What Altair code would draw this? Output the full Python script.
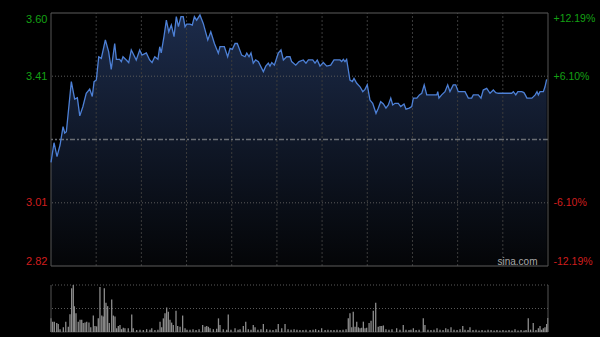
import altair as alt
import pandas as pd

# ---- price line (minutes since open, price) ----
minutes = [
    0, 2.0, 4.0, 6.0, 8.0, 9.1, 10.2, 13.5, 15.7, 17.5,
    19.1, 21.2, 23.4, 25.7, 27.4, 28.6, 30.1, 31.7, 33.4, 36.1,
    38.3, 40.0, 42.3, 43.4, 45.6, 46.7, 47.8, 50.0, 51.6, 53.3,
    54.4, 56.6, 58.9, 60.4, 63.3, 65.5, 67.1, 68.9, 71.0, 72.2,
    73.2, 75.0, 76.6, 78.2, 79.9, 81.7, 83.2, 84.6, 86.3, 87.8,
    89.0, 90.1, 92.3, 93.8, 95.2, 96.7, 98.9, 101.1, 104.1, 106.1,
    108.5, 111.1, 112.2, 115.1, 117.3, 118.9, 120.4, 122.2, 123.7, 126.6,
    128.8, 130.0, 131.5, 132.8, 134.3, 135.9, 137.7, 141.0, 142.6, 144.3,
    145.4, 146.6, 148.3, 150.9, 152.7, 154.3, 156.5, 158.7, 159.8, 162.5,
    164.7, 167.5, 169.3, 170.9, 173.8, 175.3, 176.8, 178.6, 180.8, 183.1,
    185.7, 187.9, 191.9, 193.0, 194.1, 195.2, 196.3, 198.5, 200.1, 201.2,
    203.0, 205.2, 207.0, 208.5, 210.0, 211.8, 213.6, 215.8, 217.3, 218.9,
    220.7, 222.4, 224.0, 225.6, 226.9, 228.4, 230.6, 232.2, 234.4, 235.7,
    237.9, 239.5, 240.6, 242.9, 244.6, 246.2, 247.8, 249.5, 251.7,
    256.2, 256.8, 257.6, 259.4, 261.6, 263.4, 264.9, 267.1, 268.7, 270.4, 274.9,
    277.1, 279.3, 280.4, 283.7, 285.5, 287.0, 289.3, 291.5, 293.7, 295.3,
    297.0, 299.7, 305.9, 307.0, 308.6, 310.0, 312.6, 314.0, 314.9, 316.0,
    319.3, 321.5, 322.7, 323.6, 324.7, 326.9, 328.0, 329.1,
]
prices = [
    3.139, 3.200, 3.157, 3.193, 3.250, 3.230, 3.234, 3.389, 3.335, 3.339,
    3.283, 3.312, 3.353, 3.366, 3.343, 3.389, 3.394, 3.466, 3.461, 3.518,
    3.481, 3.427, 3.507, 3.458, 3.458, 3.451, 3.466, 3.456, 3.448, 3.487,
    3.477, 3.456, 3.487, 3.471, 3.478, 3.456, 3.448, 3.466, 3.458, 3.497,
    3.478, 3.528, 3.579, 3.543, 3.564, 3.528, 3.590, 3.559, 3.590, 3.590,
    3.559, 3.567, 3.567, 3.564, 3.590, 3.579, 3.595, 3.569, 3.518, 3.543,
    3.507, 3.477, 3.497, 3.497, 3.466, 3.492, 3.489, 3.507, 3.507, 3.471,
    3.466, 3.477, 3.466, 3.478, 3.446, 3.456, 3.451, 3.420, 3.437, 3.446,
    3.437, 3.448, 3.440, 3.477, 3.487, 3.456, 3.466, 3.466, 3.451, 3.440,
    3.451, 3.456, 3.446, 3.456, 3.456, 3.446, 3.456, 3.437, 3.448, 3.437,
    3.440, 3.456, 3.456, 3.451, 3.458, 3.451, 3.458, 3.394, 3.389, 3.399,
    3.384, 3.373, 3.358, 3.365, 3.379, 3.332, 3.322, 3.291, 3.307, 3.327,
    3.320, 3.307, 3.317, 3.338, 3.317, 3.322, 3.322, 3.312, 3.320, 3.304,
    3.307, 3.312, 3.338, 3.338, 3.348, 3.353, 3.379, 3.348, 3.348,
    3.348, 3.358, 3.338, 3.348, 3.358, 3.379, 3.358, 3.379, 3.379, 3.358, 3.358,
    3.338, 3.338, 3.348, 3.348, 3.338, 3.363, 3.368, 3.353, 3.363, 3.355,
    3.353, 3.353, 3.353, 3.358, 3.348, 3.358, 3.358, 3.355, 3.348, 3.338,
    3.338, 3.348, 3.358, 3.348, 3.358, 3.358, 3.373, 3.396,
]

# ---- volume bars (minute, relative volume) ----
vol_minutes = [
    0, 1.1, 2.2, 3.8, 4.8, 6, 8.2, 9.8, 11.5, 12.6,
    13.7, 14.8, 15.5, 16.6, 18.1, 19.3, 20.4, 21.4, 22.6, 23.7,
    25.2, 26.4, 28.1, 29.2, 30.3, 31.4, 32.5, 33.7, 34.7, 35.4,
    36.5, 37.6, 38.7, 40.3, 41.4, 42.5, 43.6, 44.7, 45.8, 46.9,
    48, 49.1, 51.3, 53.6, 54.6, 56.9, 59.1, 61.3, 63.5, 65.7,
    66.9, 69, 71, 72.4, 73.5, 74.6, 75.7, 76.8, 77.9, 79,
    80.1, 81.2, 83, 84.1, 85.7, 87.4, 89, 90.3, 92.3, 94.3,
    96.3, 98.3, 100.7, 102.3, 103.4, 104.5, 105.6, 107.8, 110, 111.2,
    112.2, 114.4, 116.7, 117.7, 119.5, 122.2, 124.2, 125.5, 127.7, 129.3,
    131, 132.8, 134.3, 135.5, 137.4, 139.4, 141, 143.2, 145.4, 147.4,
    149.4, 150.9, 153.2, 155.4, 157.4, 159.4, 161.4, 163.3, 165.3, 167.3,
    169.3, 172, 174, 175.7, 177.7, 179.7, 182, 183.9, 185.9, 187.9,
    189.9, 191.9, 193.9, 195.9, 197.4, 198.5, 199.7, 200.7, 201.9, 203,
    204.1, 205.2, 206.3, 207.4, 208.5, 209.6, 211.2, 212.5, 214, 215.6,
    217.3, 218.5, 219.6, 220.7, 222.4, 224.4, 226.4, 229.5, 231.7, 233.9,
    235.7, 237.7, 239, 240.6, 242.4, 244.4, 247.2, 248.3, 250.3, 252.3,
    254.3, 256.3, 258.3, 260.3, 262.1, 263.6, 265.6, 267.6, 269.6, 271.6,
    273.4, 274.9, 276.9, 278.2, 280.2, 282.2, 284.2, 286.2, 288.2, 290.2,
    292.2, 294.2, 296.1, 298.1, 300.1, 302.1, 304.1, 306.1, 308.1, 310.1,
    312.1, 314.1, 315.4, 316.9, 318.4, 320.2, 322, 323.6, 324.7, 325.8,
    326.9, 328, 329.1, 329.8,
]
vol_values = [
    29, 22, 22, 19, 17, 6, 10, 22, 11, 38,
    93, 100, 55, 40, 22, 26, 26, 19, 20, 22,
    20, 10, 35, 13, 12, 29, 96, 35, 33, 93,
    62, 55, 19, 69, 35, 33, 8, 13, 15, 6,
    9, 8, 8, 37, 8, 4, 5, 4, 6, 5,
    8, 4, 5, 22, 10, 29, 40, 52, 43, 26,
    20, 15, 45, 13, 11, 35, 8, 5, 5, 6,
    4, 6, 15, 11, 13, 11, 8, 6, 7, 29,
    15, 6, 5, 37, 5, 8, 5, 6, 13, 22,
    6, 5, 15, 10, 5, 6, 17, 6, 5, 4,
    6, 17, 8, 17, 6, 5, 6, 5, 4, 4,
    5, 4, 5, 6, 4, 8, 4, 5, 4, 4,
    5, 4, 5, 6, 29, 40, 10, 43, 11, 22,
    10, 8, 9, 22, 8, 9, 19, 24, 45, 62,
    11, 13, 13, 14, 6, 5, 6, 8, 5, 15,
    5, 4, 5, 8, 4, 5, 29, 15, 5, 4,
    5, 8, 5, 4, 8, 6, 10, 5, 4, 6,
    13, 5, 4, 10, 4, 5, 3, 4, 3, 5,
    4, 3, 4, 3, 4, 3, 4, 3, 6, 3,
    4, 3, 4, 29, 5, 19, 4, 8, 13, 5,
    8, 10, 17, 30,
]

assert len(minutes) == len(prices)
assert len(vol_minutes) == len(vol_values)

prev_close = 3.21
pct_ticks = [-12.19, -6.10, 6.10, 12.19]
price_ticks = [prev_close * (1 + p / 100) for p in pct_ticks]
p_lo, p_hi = price_ticks[0], price_ticks[-1]
grid_minutes = [30, 60, 90, 120, 150, 180, 210, 240, 270, 300]
session_len = 330
vol_max = 100

FONT = "Liberation Sans"
GREEN = "#14a014"
RED = "#d01e1e"

price_df = pd.DataFrame({"minute": minutes, "price": prices})
vol_df = pd.DataFrame({"minute": vol_minutes, "vol": vol_values})

xs = alt.Scale(domain=[0, session_len], nice=False, zero=False, padding=0)
ps = alt.Scale(domain=[p_lo, p_hi], range=[253, 0], nice=False, zero=False)
qs = alt.Scale(domain=[pct_ticks[0], pct_ticks[-1]], range=[253, 0], nice=False, zero=False)
vs = alt.Scale(domain=[0, vol_max], range=[319, 272], nice=False)

X = alt.X("minute:Q", scale=xs, axis=None)

# area under price line
area = alt.Chart(price_df).mark_area(
    color=alt.Gradient(
        gradient="linear",
        stops=[alt.GradientStop(color="#1c2b4a", offset=0),
               alt.GradientStop(color="#040507", offset=1)],
        x1=1, x2=1, y1=0, y2=1,
    )
).encode(
    x=X,
    y=alt.Y("price:Q", scale=ps,
            axis=alt.Axis(orient="left", values=price_ticks, format=".2f",
                          labelColor={"condition": {"test": f"datum.value > {prev_close}", "value": GREEN}, "value": RED},
                          labelFont=FONT, labelFontSize=11, labelPadding=4, labelFlush=True,
                          ticks=False, domain=False, grid=False, title=None)),
    y2=alt.Y2Datum(p_lo),
)

# vertical grid
vgrid = alt.Chart(pd.DataFrame({"minute": grid_minutes})).mark_rule(
    color="#3c3c3c", strokeDash=[2, 2], strokeWidth=1
).encode(x=X, y=alt.YDatum(p_lo, scale=ps), y2=alt.Y2Datum(p_hi))

# horizontal grid
hgrid = alt.Chart(pd.DataFrame({"price": [price_ticks[1], price_ticks[2]]})).mark_rule(
    color="#5a5a5a", strokeDash=[1, 2], strokeWidth=1
).encode(y=alt.Y("price:Q", scale=ps))

mid = alt.Chart(pd.DataFrame({"price": [prev_close]})).mark_rule(
    color="#6a6e74", strokeDash=[5, 2, 2, 2], strokeWidth=1.5
).encode(y=alt.Y("price:Q", scale=ps))

# borders
hborder = alt.Chart(pd.DataFrame({"price": [p_lo, p_hi]})).mark_rule(
    color="#5c5c5c", strokeWidth=1
).encode(y=alt.Y("price:Q", scale=ps))
vborder = alt.Chart(pd.DataFrame({"minute": [0, session_len]})).mark_rule(
    color="#555555", strokeWidth=1
).encode(x=X, y=alt.YDatum(p_lo, scale=ps), y2=alt.Y2Datum(p_hi))

line = alt.Chart(price_df).mark_line(color="#4d80d6", strokeWidth=1.3).encode(
    x=X, y=alt.Y("price:Q", scale=ps)
)

mark_df = pd.DataFrame({"minute": [323.0], "price": [2.822], "t": ["sina.com"]})
water = alt.Chart(mark_df).mark_text(
    align="right", baseline="alphabetic", color="#a8a8a8", font=FONT, fontSize=10
).encode(x=X, y=alt.Y("price:Q", scale=ps), text="t:N")

price_layer = alt.layer(area, vgrid, hgrid, mid, hborder, vborder, line, water)

# right percentage axis
pct_layer = alt.Chart(pd.DataFrame({"pct": pct_ticks})).mark_point(opacity=0).encode(
    y=alt.Y("pct:Q", scale=qs,
            axis=alt.Axis(orient="right", values=pct_ticks,
                          labelExpr="(datum.value > 0 ? '+' : '-') + format(abs(datum.value), '.2f') + '%'",
                          labelColor={"condition": {"test": "datum.value > 0", "value": GREEN}, "value": RED},
                          labelFont=FONT, labelFontSize=10.5, labelPadding=5, labelFlush=True,
                          ticks=False, domain=False, grid=False, title=None))
)

# volume panel
bars = alt.Chart(vol_df).mark_bar(size=1.3, color="#8c8c8c").encode(
    x=X, y=alt.Y("vol:Q", scale=vs, axis=None)
)
vlines = alt.Chart(pd.DataFrame({"vol": [vol_max / 2, vol_max]})).mark_rule(
    color="#5a5a5a", strokeDash=[1, 2], strokeWidth=1
).encode(y=alt.Y("vol:Q", scale=vs, axis=None))
vbase = alt.Chart(pd.DataFrame({"vol": [0]})).mark_rule(
    color="#3a3a3a", strokeWidth=1
).encode(y=alt.Y("vol:Q", scale=vs, axis=None))
vside = alt.Chart(pd.DataFrame({"minute": [0, session_len]})).mark_rule(
    color="#555555", strokeWidth=1
).encode(x=X, y=alt.YDatum(0, scale=vs, axis=None), y2=alt.Y2Datum(vol_max))

vol_layer = alt.layer(vlines, vbase, bars, vside)

chart = alt.layer(price_layer, pct_layer, vol_layer).resolve_scale(
    y="independent"
).properties(
    width=497, height=319,
    autosize=alt.AutoSizeParams(type="none"),
    padding={"left": 51, "top": 13, "right": 52, "bottom": 5},
    background="#000000",
).configure_view(stroke=None)

chart.save("out.html", embed_options={"renderer": "svg", "actions": False})
